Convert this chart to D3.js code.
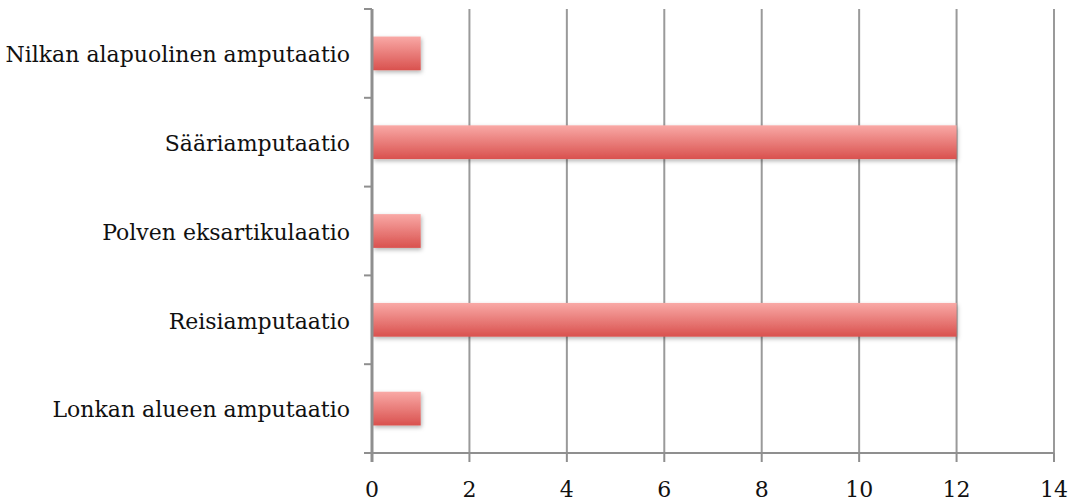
<!DOCTYPE html>
<html><head><meta charset="utf-8">
<script src="https://cdn.jsdelivr.net/npm/d3@7/dist/d3.min.js"></script>
<style>body{margin:0;background:#fff}svg{display:block}</style>
</head><body>
<svg id="c" width="1081" height="501"></svg>
<script>
const categories = ["Nilkan alapuolinen amputaatio","Sääriamputaatio","Polven eksartikulaatio","Reisiamputaatio","Lonkan alueen amputaatio"];
const values = [1,12,1,12,1];
const xTicks = [0,2,4,6,8,10,12,14];

(function(){
const svg = d3.select("#c");
const pl = 372, pr = 1054, pt = 9, pb = 453;
const x = d3.scaleLinear().domain([0,14]).range([pl,pr]);
const y = d3.scaleBand().domain(categories).range([pt,pb]).paddingInner(0.62).paddingOuter(0.31);

const defs = svg.append("defs");
const g = defs.append("linearGradient").attr("id","bg").attr("x1",0).attr("y1",0).attr("x2",0).attr("y2",1);
g.append("stop").attr("offset","0%").attr("stop-color","#f9a9a6");
g.append("stop").attr("offset","100%").attr("stop-color","#d9514e");
const f = defs.append("filter").attr("id","sh").attr("x","-10%").attr("y","-30%").attr("width","130%").attr("height","180%");
f.append("feDropShadow").attr("dx",1).attr("dy",2).attr("stdDeviation",2).attr("flood-color","#000").attr("flood-opacity",0.3);

svg.append("g").selectAll("line").data(xTicks.slice(1)).join("line")
  .attr("x1",d=>x(d)).attr("x2",d=>x(d)).attr("y1",pt).attr("y2",pb)
  .attr("stroke","#9a9a9a").attr("stroke-width",2);

svg.append("g").selectAll("rect").data(values).join("rect")
  .attr("x",x(0)+1).attr("y",(d,i)=>y(categories[i]))
  .attr("width",d=>x(d)-x(0)-1).attr("height",y.bandwidth())
  .attr("fill","url(#bg)").attr("filter","url(#sh)");

const bandStep = (pb-pt)/categories.length;
const ax = svg.append("g").attr("stroke","#8f8f8f");
ax.append("line").attr("x1",pl).attr("x2",pl).attr("y1",pt).attr("y2",pb+9).attr("stroke-width",3);
ax.selectAll("line.t").data(d3.range(categories.length)).join("line").attr("class","t")
  .attr("x1",pl-8).attr("x2",pl).attr("y1",i=>pt+i*bandStep).attr("y2",i=>pt+i*bandStep).attr("stroke-width",2);
ax.append("line").attr("x1",pl-8).attr("x2",pr).attr("y1",pb).attr("y2",pb).attr("stroke-width",2);
ax.selectAll("line.bt").data(xTicks).join("line").attr("class","bt")
  .attr("x1",d=>x(d)).attr("x2",d=>x(d)).attr("y1",pb).attr("y2",pb+9).attr("stroke-width",2);

svg.append("g").selectAll("text").data(categories).join("text")
  .attr("x",350).attr("y",d=>y(d)+y.bandwidth()/2+1).attr("dy","0.35em")
  .attr("text-anchor","end").attr("font-family","'DejaVu Serif', serif").attr("font-size",22).attr("fill","#111")
  .text(d=>d);
svg.append("g").selectAll("text").data(xTicks).join("text")
  .attr("x",d=>x(d)).attr("y",489).attr("dy","0.35em")
  .attr("text-anchor","middle").attr("font-family","'DejaVu Serif', serif").attr("font-size",22).attr("fill","#111")
  .text(d=>d);
})();
</script>
</body></html>
